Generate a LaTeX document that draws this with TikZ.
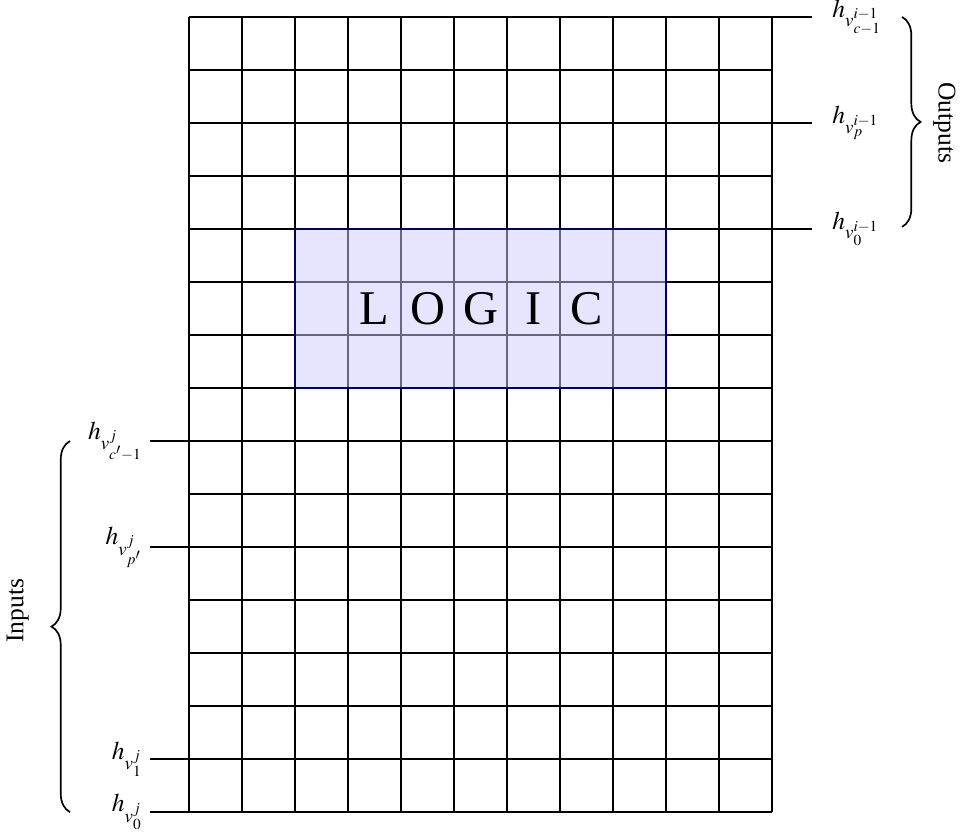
\documentclass[tikz,border=0pt]{standalone}
\usepackage{mathptmx}
\usepackage{fontspec}
\setmainfont{Liberation Serif}
\usetikzlibrary{decorations.pathreplacing}
\begin{document}
\begin{tikzpicture}[x=1cm,y=1cm,font=\fontsize{13.7}{16}\selectfont,line width=1.1pt]
\useasboundingbox (-3.566,-0.36) rectangle (14.60,15.32);
\foreach \x in {0,...,11}{\draw (\x,0)--(\x,15);}
\foreach \y in {0,...,15}{\draw (0,\y)--(11,\y);}
% outputs
\foreach \y/\name/\sub in {15/oc/{c-1},13/op/p,11/oz/0}{
\draw (11,\y)--(11.75,\y);
\node[anchor=west] (\name) at (12,\y) {$h_{v_{\sub}^{i-1}}$};
}
% inputs
\foreach \y/\name/\sub in {7/ic/{c'-1},5/ip/{p'},1/ia/1,0/iz/0}{
\draw (-0.74,\y)--(0,\y);
\node[anchor=east] (\name) at (-0.74,\y) {$h_{v_{\sub}^{j}}$};
}
% logic block
\fill[blue!20,fill opacity=0.5] (2,8) rectangle (9,11);
\draw[blue!40!black,line width=0.8pt] (2,8) rectangle (9,11);
\foreach \c [count=\i] in {L,O,G,I,C}{
\node[font=\fontsize{26}{30}\selectfont] (l\i) at (2.5+\i,9.5) {\c};
}
% braces
\draw[decorate,decoration={brace,amplitude=0.35cm},line width=0.9pt] (13.45,15)--(13.45,11.04);
\node[rotate=-90] (outs) at (14.25,13) {Outputs};
\draw[decorate,decoration={brace,amplitude=0.35cm},line width=0.9pt] (-2.245,0)--(-2.245,7);
\node[rotate=90] (ins) at (-3.23,3.8) {Inputs};
\end{tikzpicture}
\end{document}
